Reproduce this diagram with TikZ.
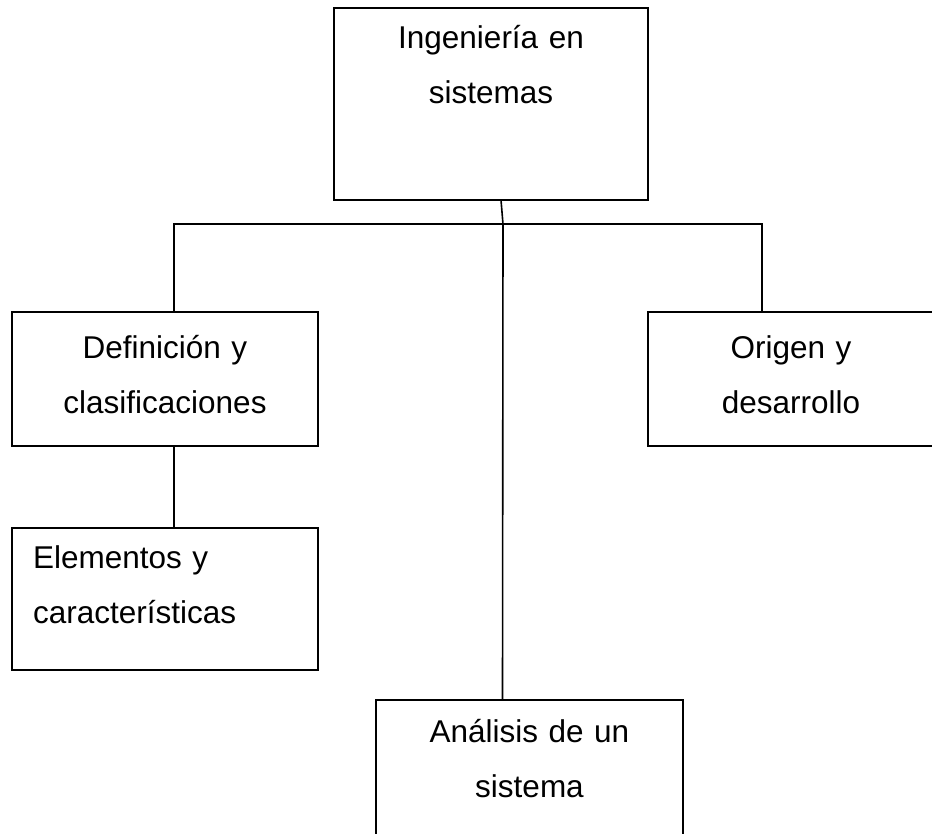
\documentclass[tikz,border=0pt]{standalone}
\usepackage{fontspec}
\setmainfont{Liberation Sans}

\begin{document}
\begin{tikzpicture}[x=1pt, y=-1pt,
      box/.style={rectangle, draw, line width=2pt, inner sep=0pt, outer sep=0pt,
                  anchor=north west, align=center,
                  font=\fontsize{31.5}{55}\selectfont},
      conn/.style={line width=1.6pt},
    ]
      \useasboundingbox (0,0) rectangle (932,833);

      \node[box, text width=314pt, text height=40pt, text depth=152pt] (ing) at (334,8)
            {Ingeniería en\\sistemas};
      \node[box, text width=306pt, text height=46pt, text depth=88pt] (defi) at (12,312)
            {Definición y\\clasificaciones};
      \node[box, text width=286pt, text height=46pt, text depth=88pt] (orig) at (648,312)
            {Origen y\\desarrollo};
      \node[box, align=left, inner xsep=21pt, text width=264pt, text height=40pt,
            text depth=102pt] (elem) at (12,528) {Elementos y\\características};
      \node[box, text width=307pt, text height=42pt, text depth=124pt] (anal) at (376,700)
            {Análisis de un\\sistema};

      \coordinate (hub) at (503,224);

      \draw[conn] ([xshift=10pt]ing.south) -- (hub);
      \draw[conn] ([xshift=9pt]defi.north) |- (hub)
                  -| ([xshift=-29pt]orig.north);
      \draw[conn] (hub) -- ([xshift=-27pt]anal.north);
      \draw[conn] ([xshift=9pt]defi.south) -- ([xshift=9pt]elem.north);
    \end{tikzpicture}
\end{document}
